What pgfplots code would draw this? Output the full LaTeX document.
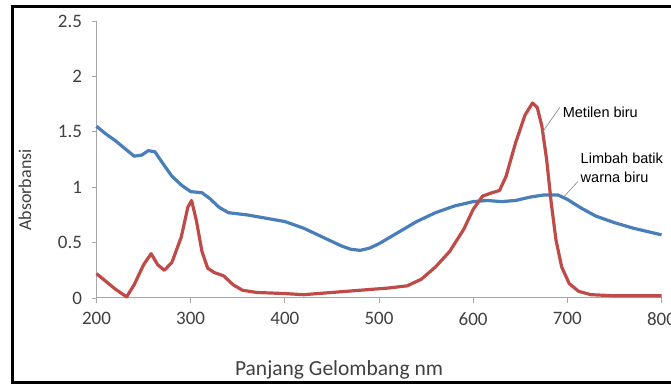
\documentclass[border=0pt]{standalone}
\usepackage{pgfplots}
\pgfplotsset{compat=1.18}
\usepackage{fontspec}
\setmainfont{Carlito}
\newfontfamily\arialfont{Liberation Sans}
\definecolor{exblue}{HTML}{4A7EBB}
\definecolor{exred}{HTML}{BE4B48}
\definecolor{axgray}{HTML}{A6A6A6}
\definecolor{txt}{HTML}{404040}
\begin{document}
\begin{tikzpicture}
\begin{axis}[
  scale only axis, width=565pt, height=277pt,
  xmin=200, xmax=800, ymin=0, ymax=2.5,
  axis x line=bottom, axis y line=left,
  axis line style={axgray, line width=1pt, -},
  xtick={200,300,...,800}, ytick={0,0.5,...,2.5},
  tick align=outside, major tick length=5pt,
  tick style={axgray, line width=0.8pt},
  /pgf/number format/assume math mode=true,
  ticklabel style={font=\fontsize{19}{20}\selectfont, text=txt},
  xticklabel style={yshift=-6pt},
  yticklabel style={xshift=-6pt},
  clip=false,
]
\addplot[exblue, line width=3.2pt, line join=round] coordinates {
(200,1.55) (210,1.48) (220,1.42) (230,1.35) (240,1.28) (248,1.29) (255,1.33)
(262,1.32) (270,1.22) (280,1.10) (290,1.02) (300,0.96) (312,0.95) (320,0.90)
(330,0.82) (340,0.77) (360,0.75) (380,0.72) (400,0.69) (420,0.63) (440,0.55)
(460,0.47) (470,0.44) (480,0.43) (490,0.45) (500,0.49) (520,0.59) (540,0.69)
(560,0.77) (580,0.83) (600,0.87) (615,0.88) (630,0.87) (645,0.88) (660,0.91)
(675,0.93) (690,0.93) (700,0.89) (715,0.81) (730,0.74) (750,0.68) (770,0.63)
(790,0.59) (800,0.57)
};
\addplot[exred, line width=3.2pt, line join=round] coordinates {
(200,0.22) (210,0.15) (220,0.08) (232,0.01) (240,0.12) (250,0.30) (258,0.40)
(265,0.30) (272,0.25) (280,0.32) (290,0.55) (297,0.82) (301,0.88) (306,0.70)
(312,0.42) (318,0.27) (325,0.23) (335,0.20) (345,0.12) (355,0.07) (370,0.05)
(400,0.04) (420,0.03) (450,0.05) (480,0.07) (510,0.09) (530,0.11) (545,0.17)
(560,0.28) (575,0.42) (590,0.62) (600,0.80) (610,0.92) (620,0.95) (628,0.97)
(635,1.10) (645,1.40) (655,1.65) (663,1.76) (668,1.72) (673,1.55) (678,1.25)
(683,0.85) (688,0.52) (694,0.28) (702,0.13) (712,0.06) (725,0.03) (750,0.02)
(800,0.02)
};
\draw[gray, line width=0.6pt] (axis cs:673,1.49) -- (axis cs:692,1.72);
\draw[gray, line width=0.6pt] (axis cs:696,0.91) -- (axis cs:711,1.05);
\node[anchor=west, font=\arialfont\fontsize{14.5}{15}\selectfont, inner sep=0pt] at (axis cs:695,1.68) {Metilen biru};
\node[anchor=west, font=\arialfont\fontsize{14.5}{15}\selectfont, inner sep=0pt] at (axis cs:714,1.26) {Limbah batik};
\node[anchor=west, font=\arialfont\fontsize{14.5}{15}\selectfont, inner sep=0pt] at (axis cs:714,1.09) {warna biru};
\node[rotate=90, font=\fontsize{18}{20}\selectfont, text=txt] at (rel axis cs:-0.1265,0.390) {Absorbansi};
\node[font=\fontsize{21.5}{22}\selectfont, text=txt] at (rel axis cs:0.4292,-0.2599) {Panjang Gelombang nm};
\coordinate (BL) at (rel axis cs:-0.1708,-0.3105);
\coordinate (TR) at (rel axis cs:1.0168,1.0758);
\coordinate (FBL) at (rel axis cs:-0.1487,-0.3051);
\coordinate (FTR) at (rel axis cs:1.0204,1.0523);
\end{axis}
\draw[line width=2.8pt] (FTR) -- (FBL|-FTR) -- (FBL) -- (FTR|-FBL);
\pgfresetboundingbox
\useasboundingbox (BL) rectangle (TR);
\end{tikzpicture}
\end{document}
